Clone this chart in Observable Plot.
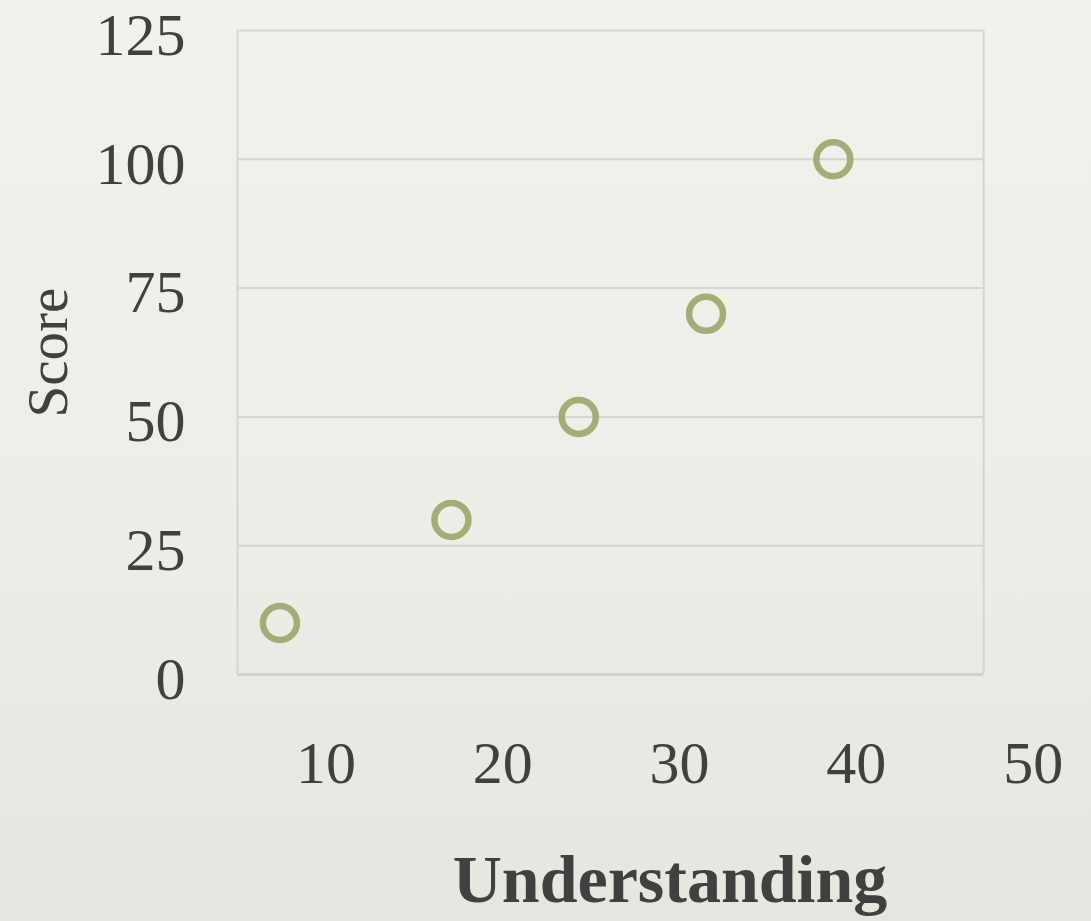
<!DOCTYPE html>
<html>
<head>
<meta charset="utf-8">
<script src="https://cdn.jsdelivr.net/npm/d3@7"></script>
<script src="https://cdn.jsdelivr.net/npm/@observablehq/plot@0.6"></script>
<style>
  html, body { margin: 0; padding: 0; }
  body {
    width: 1091px; height: 921px; overflow: hidden;
    background: linear-gradient(180deg, #f3f1ec 0%, #efede8 55%, #e7e5e0 100%);
  }
  #chart svg { display: block; background: transparent; }
</style>
</head>
<body>
<div id="chart"></div>
<script>
// Data
const understanding = [7.4, 17.1, 24.3, 31.5, 38.7];
const score = [10, 30, 50, 70, 100];
const xTicks = [10, 20, 30, 40, 50];
const yTicks = [0, 25, 50, 75, 100, 125];
const xDomain = [5, 52];
const xFrame = [5, 47.2];
const yDomain = [0, 125];
const xLabel = "Understanding";
const yLabel = "Score";

const points = understanding.map((u, i) => ({u, s: score[i]}));

const font = "'Palatino Linotype', 'Book Antiqua', Palatino, 'Liberation Serif', serif";
const ink = "#404040";
const grid = "#d5d5d3";

const chart = Plot.plot({
  width: 1091,
  height: 921,
  marginTop: 30,
  marginBottom: 247,
  marginLeft: 237,
  marginRight: 23,
  style: {fontFamily: font, background: "transparent", color: ink},
  x: {domain: xDomain},
  y: {domain: yDomain},
  marks: [
    // horizontal grid lines (including top border)
    Plot.ruleY(yTicks.filter(d => d > 0), {x1: xFrame[0], x2: xFrame[1], stroke: grid, strokeWidth: 2}),
    // vertical frame borders
    Plot.ruleX(xFrame, {y1: yDomain[0], y2: yDomain[1], stroke: grid, strokeWidth: 2}),
    // bottom axis line
    Plot.ruleY([0], {x1: xFrame[0], x2: xFrame[1], stroke: "#d0d0ce", strokeWidth: 3}),
    Plot.axisY(yTicks, {tickSize: 0, tickPadding: 52, fontSize: 60, fill: ink, dy: 5, label: null}),
    Plot.axisX(xTicks, {tickSize: 0, tickPadding: 66, fontSize: 60, fill: ink, label: null}),
    Plot.text([yLabel], {frameAnchor: "left", textAnchor: "middle", lineAnchor: "middle", dx: -189, rotate: -90, fontSize: 57, fill: ink, text: d => d}),
    Plot.text([xLabel], {frameAnchor: "bottom", textAnchor: "middle", lineAnchor: "middle", dx: 17, dy: 206, fontSize: 68, fontWeight: "bold", fill: ink, text: d => d}),
    Plot.dot(points, {x: "u", y: "s", r: 17, stroke: "#a3ae74", strokeWidth: 6.5, fill: "none"})
  ]
});
document.getElementById("chart").append(chart);
</script>
</body>
</html>
